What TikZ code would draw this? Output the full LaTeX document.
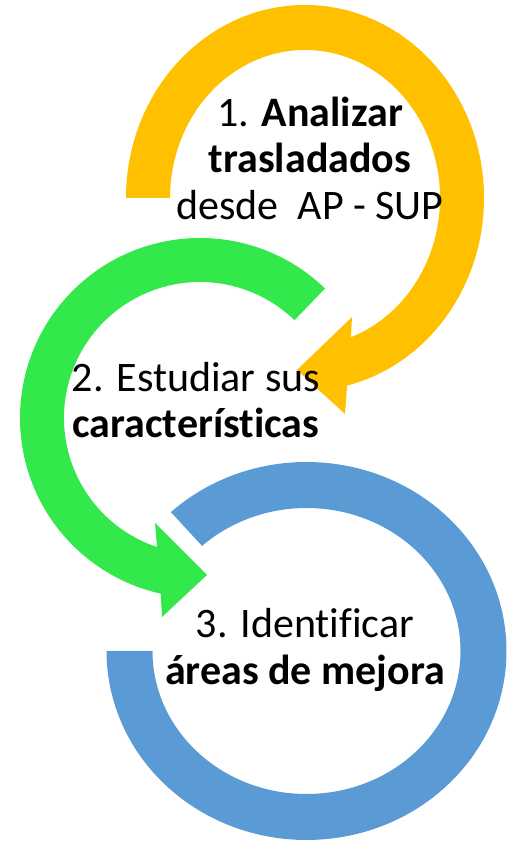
\documentclass[tikz,border=0pt]{standalone}
\usepackage{fontspec}
\setmainfont{Carlito}[Ligatures={NoCommon}]
\definecolor{ylw}{HTML}{FFC000}
\definecolor{grn}{HTML}{32E84B}
\definecolor{blu}{HTML}{5B9BD5}
\begin{document}
\begin{tikzpicture}[x=1pt,y=1pt,
  lbl/.style={font=\fontsize{42}{46}\selectfont, anchor=base, inner sep=0pt}]
\useasboundingbox (0,0) rectangle (508,842);
\coordinate (yc) at (305,644);
\coordinate (gc) at (200,424);
\coordinate (bc) at (306.5,191);
% blue ring
\fill[blu] ([shift={(bc)}]132.7:200 and 189)
  arc[start angle=132.7, end angle=-180, x radius=200, y radius=189]
  -- ([shift={(bc)}]180:154 and 143)
  arc[start angle=-180, end angle=132.7, x radius=154, y radius=143] -- cycle;
% green arrow
\fill[grn] ([shift={(gc)}]46:180)
  arc[start angle=46, end angle=257.4, radius=180]
  -- (162,225) -- (207,267) -- (155,319)
  -- ([shift={(gc)}]251.6:136)
  arc[start angle=251.6, end angle=46, radius=136] -- cycle;
% yellow arrow
\fill[ylw] ([shift={(yc)}]180:179 and 193)
  arc[start angle=180, end angle=-76.4, x radius=179, y radius=193]
  -- (345,428) -- (297,472) -- (352,525)
  -- ([shift={(yc)}]-70.1:135 and 148)
  arc[start angle=-70.1, end angle=180, x radius=135, y radius=148] -- cycle;
% texts
\node[lbl] (t1a) at (310,715) {1. \textbf{Analizar}};
\node[lbl] (t1b) at (310,669) {\textbf{trasladados}};
\node[lbl] (t1c) at (310,622) {desde\ \ AP - SUP};
\node[lbl] (t2a) at (196,450) {2. Estudiar sus};
\node[lbl] (t2b) at (196,404) {\textbf{características}};
\node[lbl] (t3a) at (305,204) {3. Identificar};
\node[lbl] (t3b) at (305,157) {\textbf{áreas de mejora}};
\end{tikzpicture}
\end{document}
